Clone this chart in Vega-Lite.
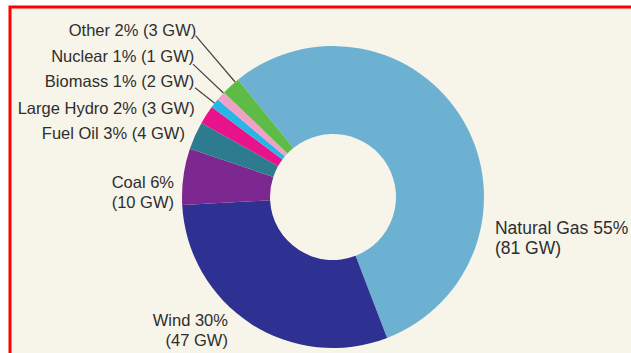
{
  "$schema": "https://vega.github.io/schema/vega-lite/v6.json",
  "usermeta": {"embedOptions": {"actions": false}},
  "width": 646,
  "height": 380,
  "autosize": {"type": "none"},
  "padding": {"left": 10, "top": 7, "right": 0, "bottom": 0},
  "background": "#ffffff",
  "view": {"fill": "#f7f4ea", "stroke": "#ff0000", "strokeWidth": 3},
  "config": {
    "view": {"fill": "#f7f4ea", "stroke": "#ff0000", "strokeWidth": 3},
    "text": {"font": "Liberation Sans", "fontSize": 16.5, "color": "#2e2e2e", "lineBreak": "\n", "lineHeight": 20, "baseline": "middle"}
  },
  "data": {
    "values": [
      {"source": "Natural Gas", "pct": 55, "gw": 81, "idx": 1},
      {"source": "Wind", "pct": 30, "gw": 47, "idx": 2},
      {"source": "Coal", "pct": 6, "gw": 10, "idx": 3},
      {"source": "Fuel Oil", "pct": 3, "gw": 4, "idx": 4},
      {"source": "Large Hydro", "pct": 2, "gw": 3, "idx": 5},
      {"source": "Biomass", "pct": 1, "gw": 2, "idx": 6},
      {"source": "Nuclear", "pct": 1, "gw": 1, "idx": 7},
      {"source": "Other", "pct": 2, "gw": 3, "idx": 8}
    ]
  },
  "transform": [
    {"stack": "pct", "groupby": [], "sort": [{"field": "idx", "order": "ascending"}], "as": ["p0", "p1"]},
    {"calculate": "(datum.p0 + datum.p1) / 2", "as": "pmid"},
    {"calculate": "datum.pct >= 6 ? datum.source + ' ' + datum.pct + '%\\n(' + datum.gw + ' GW)' : datum.source + ' ' + datum.pct + '% (' + datum.gw + ' GW)'", "as": "label"}
  ],
  "layer": [
    {
      "mark": {"type": "arc", "innerRadius": 63, "outerRadius": 151},
      "encoding": {
        "theta": {"field": "p0", "type": "quantitative", "scale": {"domain": [0, 100], "range": [-0.6807, 5.6025], "zero": false, "nice": false}},
        "theta2": {"field": "p1"},
        "color": {
          "field": "source",
          "type": "nominal",
          "legend": null,
          "scale": {
            "domain": ["Natural Gas", "Wind", "Coal", "Fuel Oil", "Large Hydro", "Biomass", "Nuclear", "Other"],
            "range": ["#6cb0d2", "#2e3192", "#7d2891", "#2c7b8e", "#e8138a", "#29b6e6", "#f2a0c6", "#5dbb46"]
          }
        }
      }
    },
    {
      "transform": [{"filter": "datum.source == 'Other'"}],
      "mark": {"type": "arc", "innerRadius": 151, "outerRadius": 212, "thetaOffset": 0.0384, "theta2Offset": 0.0384, "fill": "transparent", "stroke": "#444444", "strokeWidth": 1.2},
      "encoding": {"theta": {"field": "pmid", "type": "quantitative"}, "theta2": {"field": "pmid"}}
    },
    {
      "transform": [{"filter": "datum.source == 'Nuclear'"}],
      "mark": {"type": "arc", "innerRadius": 151, "outerRadius": 193, "thetaOffset": 0.0262, "theta2Offset": 0.0262, "fill": "transparent", "stroke": "#444444", "strokeWidth": 1.2},
      "encoding": {"theta": {"field": "pmid", "type": "quantitative"}, "theta2": {"field": "pmid"}}
    },
    {
      "transform": [{"filter": "datum.source == 'Biomass'"}],
      "mark": {"type": "arc", "innerRadius": 151, "outerRadius": 176, "fill": "transparent", "stroke": "#444444", "strokeWidth": 1.2},
      "encoding": {"theta": {"field": "pmid", "type": "quantitative"}, "theta2": {"field": "pmid"}}
    },
    {
      "transform": [{"filter": "datum.source == 'Other'"}],
      "mark": {"type": "text", "radius": 215, "thetaOffset": 0.054, "align": "right"},
      "encoding": {"theta": {"field": "pmid", "type": "quantitative"}, "text": {"field": "label"}}
    },
    {
      "transform": [{"filter": "datum.source == 'Nuclear'"}],
      "mark": {"type": "text", "radius": 197, "thetaOffset": 0.056, "align": "right"},
      "encoding": {"theta": {"field": "pmid", "type": "quantitative"}, "text": {"field": "label"}}
    },
    {
      "transform": [{"filter": "datum.source == 'Biomass'"}],
      "mark": {"type": "text", "radius": 180, "thetaOffset": 0.021, "align": "right"},
      "encoding": {"theta": {"field": "pmid", "type": "quantitative"}, "text": {"field": "label"}}
    },
    {
      "transform": [{"filter": "datum.source == 'Large Hydro'"}],
      "mark": {"type": "text", "radius": 164, "thetaOffset": -0.009, "align": "right"},
      "encoding": {"theta": {"field": "pmid", "type": "quantitative"}, "text": {"field": "label"}}
    },
    {
      "transform": [{"filter": "datum.source == 'Fuel Oil'"}],
      "mark": {"type": "text", "radius": 161, "thetaOffset": -0.016, "align": "right"},
      "encoding": {"theta": {"field": "pmid", "type": "quantitative"}, "text": {"field": "label"}}
    },
    {
      "transform": [{"filter": "datum.source == 'Coal'"}],
      "mark": {"type": "text", "radius": 159.6, "thetaOffset": -0.049, "align": "right"},
      "encoding": {"theta": {"field": "pmid", "type": "quantitative"}, "text": {"field": "label"}}
    },
    {
      "transform": [{"filter": "datum.source == 'Wind'"}],
      "mark": {"type": "text", "radius": 162.5, "thetaOffset": 0.127, "align": "right"},
      "encoding": {"theta": {"field": "pmid", "type": "quantitative"}, "text": {"field": "label"}}
    },
    {
      "transform": [{"filter": "datum.source == 'Natural Gas'"}],
      "mark": {"type": "text", "radius": 165.1, "thetaOffset": 0.719, "align": "left", "fontSize": 17.5},
      "encoding": {"theta": {"field": "pmid", "type": "quantitative"}, "text": {"field": "label"}}
    }
  ]
}
